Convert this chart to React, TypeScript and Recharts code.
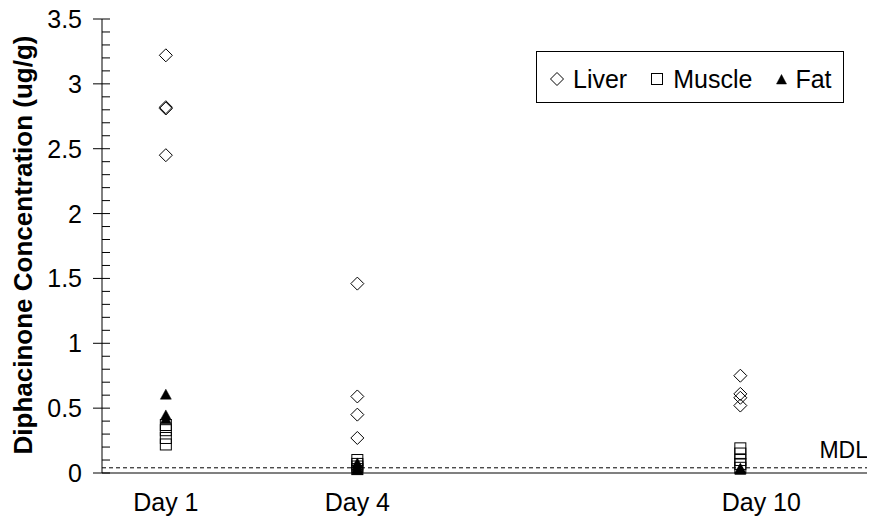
import React from 'react';
import { ScatterChart, Scatter, XAxis, YAxis, ReferenceLine } from 'recharts';

const days = [1, 4, 10];
const dayLabels = ['Day 1', 'Day 4', 'Day 10'];
const liverValues = [
  [3.22, 2.82, 2.81, 2.45],
  [1.46, 0.59, 0.45, 0.27],
  [0.75, 0.61, 0.58, 0.52],
];
const muscleValues = [
  [0.37, 0.33, 0.27, 0.22],
  [0.1, 0.07, 0.05, 0.03],
  [0.19, 0.15, 0.1, 0.07, 0.04],
];
const fatValues = [
  [0.6, 0.44, 0.41],
  [0.07, 0.05, 0.03, 0.02],
  [0.03, 0.02],
];
const MDL = 0.04;
const yTicks = [
  0, 0.1, 0.2, 0.3, 0.4, 0.5, 0.6, 0.7, 0.8, 0.9, 1, 1.1, 1.2, 1.3, 1.4, 1.5, 1.6, 1.7, 1.8, 1.9, 2,
  2.1, 2.2, 2.3, 2.4, 2.5, 2.6, 2.7, 2.8, 2.9, 3, 3.1, 3.2, 3.3, 3.4, 3.5,
];
const seriesNames = ['Liver', 'Muscle', 'Fat'];
const yTitle = 'Diphacinone Concentration (ug/g)';

const FONT = '"Liberation Sans", Arial, Helvetica, sans-serif';
const dayLabelShift: Record<number, number> = { 10: 21 };

const toPoints = (arr: number[][]) =>
  days.flatMap((d, i) => arr[i].map((v) => ({ day: d, value: v })));

const liverData = toPoints(liverValues);
const muscleData = toPoints(muscleValues);
const fatData = toPoints(fatValues);

const Diamond = ({ cx, cy }: any) => (
  <path d={`M${cx},${cy - 6.5}L${cx + 6.5},${cy}L${cx},${cy + 6.5}L${cx - 6.5},${cy}Z`} fill="none" stroke="#000" strokeWidth={1} />
);
const Square = ({ cx, cy }: any) => (
  <rect x={cx - 5.5} y={cy - 5.5} width={11} height={11} fill="none" stroke="#000" strokeWidth={1} />
);
const Triangle = ({ cx, cy }: any) => (
  <path d={`M${cx},${cy - 6}L${cx + 5.5},${cy + 4}L${cx - 5.5},${cy + 4}Z`} fill="#000" stroke="#000" strokeWidth={0.5} />
);

const YTick = ({ x, y, payload }: any) => {
  const v = payload.value;
  const major = Math.abs(v * 2 - Math.round(v * 2)) < 1e-6;
  return (
    <g>
      {major ? (
        <>
          <line x1={x - 9} x2={x + 8} y1={y} y2={y} stroke="#000" strokeWidth={1} />
          <text x={x - 20} y={y} dy="0.36em" textAnchor="end" fontSize={25} fontFamily={FONT} fill="#000">
            {String(Math.round(v * 2) / 2)}
          </text>
        </>
      ) : (
        <line x1={x} x2={x + 8} y1={y} y2={y} stroke="#000" strokeWidth={1} />
      )}
    </g>
  );
};

const XTick = ({ x, y, payload }: any) => {
  const idx = days.indexOf(payload.value);
  const shift = dayLabelShift[payload.value] || 0;
  return (
    <text x={x + shift} y={y + 38} textAnchor="middle" fontSize={25} fontFamily={FONT} fill="#000">
      {dayLabels[idx]}
    </text>
  );
};

const YTitle = (p: any) => {
  const vb = p.viewBox || { x: 0, y: 11, width: 94, height: 454 };
  const cx = vb.x + 23.6;
  const cy = vb.y + vb.height / 2 - 1;
  return (
    <text x={cx} y={cy} transform={`rotate(-90, ${cx}, ${cy})`} textAnchor="middle" fontSize={26} fontWeight="bold" fontFamily={FONT} fill="#000">
      {yTitle}
    </text>
  );
};

const MdlLabel = (p: any) => {
  const vb = p.viewBox || { x: 94, y: 460, width: 766, height: 0 };
  return (
    <text x={vb.x + vb.width} y={vb.y - 10} textAnchor="end" fontSize={23} fontFamily={FONT} fill="#000">
      MDL
    </text>
  );
};

const LegendIcon = ({ kind }: { kind: number }) => {
  if (kind === 0)
    return (
      <svg width={14} height={14} style={{ display: 'block' }}>
        <path d="M7,0.5L13.5,7L7,13.5L0.5,7Z" fill="none" stroke="#000" strokeWidth={1} />
      </svg>
    );
  if (kind === 1)
    return (
      <svg width={12} height={12} style={{ display: 'block' }}>
        <rect x={0.5} y={0.5} width={11} height={11} fill="none" stroke="#000" strokeWidth={1} />
      </svg>
    );
  return (
    <svg width={11} height={11} style={{ display: 'block' }}>
      <path d="M5.5,0.5L10.5,10L0.5,10Z" fill="#000" stroke="#000" strokeWidth={0.5} />
    </svg>
  );
};

export default function App() {
  return (
    <div style={{ position: 'relative', width: 867, height: 511 }}>
      <ScatterChart width={867} height={511} margin={{ top: 11, right: 7, left: 0, bottom: 0 }}>
        <XAxis
          type="number"
          dataKey="day"
          domain={[0, 12]}
          ticks={days}
          interval={0}
          height={46}
          tickSize={0}
          tickMargin={0}
          tickLine={false}
          axisLine={{ stroke: '#808080', strokeWidth: 2 }}
          tick={<XTick />}
        />
        <YAxis
          type="number"
          dataKey="value"
          domain={[0, 3.5]}
          ticks={yTicks}
          interval={0}
          width={94}
          tickSize={0}
          tickMargin={0}
          tickLine={false}
          axisLine={{ stroke: '#000', strokeWidth: 1 }}
          tick={<YTick />}
          label={(p: any) => <YTitle {...p} />}
        />
        <ReferenceLine
          ifOverflow="visible"
          segment={[{ x: 0, y: MDL }, { x: 12.3, y: MDL }]}
          stroke="#000"
          strokeWidth={1}
          strokeDasharray="4 3"
        />
        <ReferenceLine y={MDL} stroke="none" label={(p: any) => <MdlLabel {...p} />} />
        <Scatter name="Liver" data={liverData} isAnimationActive={false} shape={(p: any) => <Diamond cx={p.cx} cy={p.cy} />} />
        <Scatter name="Muscle" data={muscleData} isAnimationActive={false} shape={(p: any) => <Square cx={p.cx} cy={p.cy} />} />
        <Scatter name="Fat" data={fatData} isAnimationActive={false} shape={(p: any) => <Triangle cx={p.cx} cy={p.cy} />} />
      </ScatterChart>
      <div
        style={{
          position: 'absolute',
          left: 528,
          top: 43,
          height: 52,
          boxSizing: 'border-box',
          border: '1px solid #000',
          background: '#fff',
          display: 'flex',
          alignItems: 'center',
          paddingLeft: 13,
          paddingRight: 11,
          paddingTop: 4,
          fontFamily: FONT,
          fontSize: 25,
          color: '#000',
          whiteSpace: 'nowrap',
        }}
      >
        {seriesNames.map((n, i) => (
          <div key={n} style={{ display: 'flex', alignItems: 'center', marginLeft: i === 0 ? 0 : 24 }}>
            <div style={{ marginRight: i === 0 ? 9 : i === 1 ? 10 : 8 }}>
              <LegendIcon kind={i} />
            </div>
            <span>{n}</span>
          </div>
        ))}
      </div>
    </div>
  );
}
